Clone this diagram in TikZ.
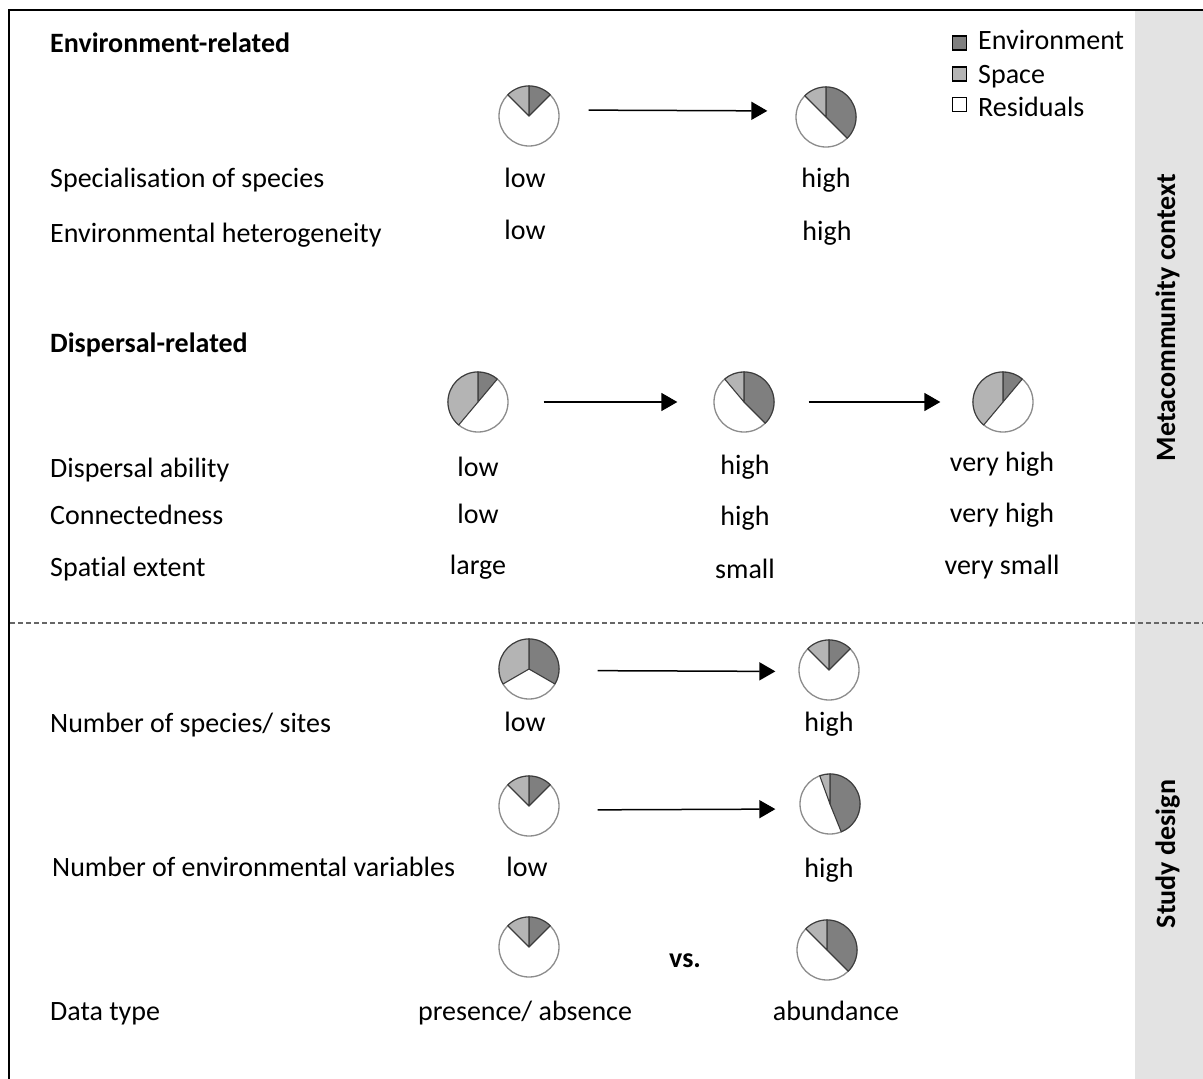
\documentclass[tikz,border=0pt]{standalone}
\usepackage{fontspec}
\setmainfont{Carlito}[Ligatures=NoCommon]
\usetikzlibrary{arrows.meta}
\definecolor{envc}{HTML}{7F7F7F}
\definecolor{spacec}{HTML}{B4B4B4}
\definecolor{edgec}{HTML}{3C3C3C}
\definecolor{rimc}{HTML}{8C8C8C}
\definecolor{bandc}{HTML}{E3E3E3}
\newcommand\mypie[5]{%
  \node[piebase] (#1) at (#2,-#3) {};
  \filldraw[envwedge] (#1.center) -- ++(90:30) arc[start angle=90,end angle=#4,radius=30] -- cycle;
  \filldraw[spacewedge] (#1.center) -- ++(90:30) arc[start angle=90,end angle=#5,radius=30] -- cycle;
}
\tikzset{
  piebase/.style={circle,draw=rimc,fill=white,minimum size=60pt,inner sep=0pt,line width=1.3pt},
  envwedge/.style={fill=envc,draw=edgec,line width=1.1pt,line join=round},
  spacewedge/.style={fill=spacec,draw=edgec,line width=1.1pt,line join=round},
  arr/.style={line width=1.5pt,-{Triangle[length=16pt,width=18pt]}},
  txt/.style={font=\fontsize{28pt}{32pt}\selectfont,inner sep=0pt},
  lbl/.style={txt,anchor=base west},
  val/.style={txt,anchor=base},
  hdr/.style={txt,anchor=base west,font=\fontsize{28pt}{32pt}\selectfont\bfseries},
  side/.style={txt,anchor=base,rotate=90,font=\fontsize{28pt}{32pt}\selectfont\bfseries},
  legbox/.style={draw=black,line width=1.6pt,minimum size=14pt,inner sep=0pt},
  legtxt/.style={txt,anchor=base west},
}
\begin{document}
\begin{tikzpicture}[x=1pt,y=1pt]
\useasboundingbox (0,0) rectangle (1203,-1079);
\fill[white] (0,0) rectangle (1203,-1079);
% band
\fill[bandc] (1135,-11) rectangle (1203,-1079);
% frame
\draw[line width=2pt] (9,-1079) -- (9,-10) -- (1203,-10);
% dashed separator
\draw[gray!80!black,line width=1.2pt,dash pattern=on 5pt off 3pt] (10,-623) -- (1203,-623);

% side labels
\node[side] (ctx) at (1175,-317.5) {Metacommunity context};
\node[side] (des) at (1175,-854) {Study design};

% legend
\node[legbox,fill=envc] (lg1) at (959.5,-43) {};
\node[legbox,fill=spacec] (lg2) at (959.5,-74) {};
\node[legbox,fill=white] (lg3) at (959.5,-104.5) {};
\node[legtxt] (lt1) at (978,-49) {Environment};
\node[legtxt] (lt2) at (978,-83) {Space};
\node[legtxt] (lt3) at (978,-116) {Residuals};

% Environment-related
\node[hdr] (h1) at (50,-52) {Environment-related};
\mypie{p1a}{529}{116}{45}{135}
\mypie{p1b}{826}{117}{-45}{135}
\draw[arr,shorten <=29pt,shorten >=28pt] ([yshift=6pt]p1a.east) -- ([yshift=6pt]p1b.west);
\node[lbl] (l11) at (50,-187) {Specialisation of species};
\node[val] (v11) at (525,-187) {low};
\node[val] (v12) at (826,-187) {high};
\node[lbl] (l12) at (50,-242) {Environmental heterogeneity};
\node[val] (v13) at (525,-239) {low};
\node[val] (v14) at (827,-240) {high};

% Dispersal-related
\node[hdr] (h2) at (50,-352) {Dispersal-related};
\mypie{p2a}{478}{402}{50}{230}
\mypie{p2b}{744}{402}{-45}{130}
\mypie{p2c}{1003}{402}{50}{230}
\draw[arr,shorten <=35pt,shorten >=36pt] (p2a.east) -- (p2b.west);
\draw[arr,shorten <=34pt,shorten >=32pt] (p2b.east) -- (p2c.west);
\node[lbl] (l21) at (50,-477) {Dispersal ability};
\node[val] (v21) at (478,-476) {low};
\node[val] (v22) at (745,-474) {high};
\node[val] (v23) at (1002,-471) {very high};
\node[lbl] (l22) at (50,-524) {Connectedness};
\node[val] (v24) at (478,-523) {low};
\node[val] (v25) at (745,-525) {high};
\node[val] (v26) at (1002,-522) {very high};
\node[lbl] (l23) at (50,-576) {Spatial extent};
\node[val] (v27) at (478,-574) {large};
\node[val] (v28) at (745,-578) {small};
\node[val] (v29) at (1002,-574) {very small};

% Study design
\mypie{p3a}{529}{669}{-30}{210}
\mypie{p3b}{829}{670}{45}{135}
\draw[arr,shorten <=38pt,shorten >=23pt] ([yshift=-1.5pt]p3a.east) -- ([yshift=-1.5pt]p3b.west);
\node[lbl] (l31) at (50,-732) {Number of species/ sites};
\node[val] (v31) at (525,-731) {low};
\node[val] (v32) at (829,-731) {high};

\mypie{p4a}{529}{806}{45}{135}
\mypie{p4b}{830}{804}{-68}{110}
\draw[arr,shorten <=38pt,shorten >=24pt] ([yshift=-4pt]p4a.east) -- ([yshift=-5pt]p4b.west);
\node[lbl] (l41) at (52,-876) {Number of environmental variables};
\node[val] (v41) at (527,-876) {low};
\node[val] (v42) at (829,-877) {high};

\mypie{p5a}{529}{947}{45}{135}
\mypie{p5b}{827}{950}{-45}{135}
\node[val,font=\fontsize{28pt}{32pt}\selectfont\bfseries] (vs) at (685,-967) {vs.};
\node[lbl] (l51) at (50,-1020) {Data type};
\node[val] (v51) at (525,-1020) {presence/ absence};
\node[val] (v52) at (836,-1020) {abundance};
\end{tikzpicture}
\end{document}
